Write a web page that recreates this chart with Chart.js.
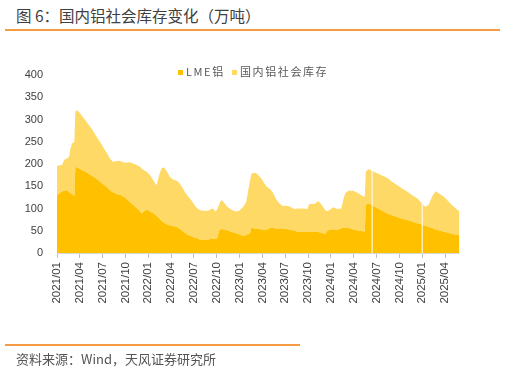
<!DOCTYPE html>
<html>
<head>
<meta charset="utf-8">
<script src="https://cdn.jsdelivr.net/npm/chart.js@4.4.1/dist/chart.umd.min.js"></script>
<style>
  html, body { margin: 0; padding: 0; background: #ffffff; }
  #wrap { position: relative; width: 505px; height: 372px; overflow: hidden; background: #fff; }
  #title { position: absolute; left: 16px; top: 5px; font: 15.5px "Noto Sans CJK SC", sans-serif; color: #404040; white-space: nowrap; line-height: 20px; }
  #topline { position: absolute; left: 5px; top: 29px; width: 495px; height: 2px; background: #F79A45; }
  #botline { position: absolute; left: 5px; top: 344px; width: 295px; height: 2px; background: #F79A45; }
  #source { position: absolute; left: 16px; top: 350px; font: 13px "Noto Sans CJK SC", sans-serif; color: #555; white-space: nowrap; line-height: 18px; }
  #legend { position: absolute; top: 63px; left: 0; width: 505px; height: 16px; font: 11px "Noto Sans CJK SC", sans-serif; color: #595959; }
  .li { position: absolute; top: 0; white-space: nowrap; line-height: 16px; letter-spacing: 1.6px; }
  .sw { display: inline-block; width: 5px; height: 5px; margin-right: 3px; vertical-align: 1px; }
  canvas { position: absolute; left: 0; top: 0; }
</style>
</head>
<body>
<div id="wrap">
  <div id="title">图 6：国内铝社会库存变化（万吨）</div>
  <div id="topline"></div>
  <canvas id="c" width="505" height="372"></canvas>
  <div id="legend"></div>
  <div id="botline"></div>
  <div id="source">资料来源：Wind，天风证券研究所</div>
</div>
<script>
// x positions: months elapsed since 2021/01 (null values = missing observations)
const tickLabels = ['2021/01','2021/04','2021/07','2021/10','2022/01','2022/04','2022/07','2022/10',
  '2023/01','2023/04','2023/07','2023/10','2024/01','2024/04','2024/07','2024/10','2025/01','2025/04'];
const seriesNames = ['LME铝', '国内铝社会库存'];
const months = [0,0.66,0.92,1.32,1.58,1.78,1.97,2.28,2.41,2.63,3.03,3.42,3.82,4.21,4.61,5.00,5.39,5.79,6.18,6.58,6.97,
  7.37,7.89,8.29,8.95,9.61,10.13,10.53,10.92,11.18,11.45,11.84,12.24,12.63,13.09,13.42,13.75,14.08,14.47,14.87,15.26,
  15.66,16.05,16.45,16.84,17.24,17.63,18.03,18.42,18.82,19.34,19.87,20.26,20.53,20.79,21.05,21.32,21.58,21.84,22.37,
  22.89,23.42,23.95,24.47,24.87,25.13,25.33,25.53,25.66,26.18,26.45,26.84,27.24,27.63,28.03,28.42,28.82,29.21,29.61,
  30.13,30.66,31.18,31.71,32.37,32.89,33.16,33.82,34.34,34.80,35.26,35.53,35.92,36.32,36.84,37.37,37.63,37.89,38.29,
  38.95,39.61,40.26,40.46,40.59,40.96,41.37,41.41,41.45,42.07,42.72,43.38,44.04,44.70,45.36,46.01,46.67,47.33,47.76,
  47.95,47.99,48.03,48.42,48.86,49.30,49.74,50.17,50.83,51.49,52.14,52.89];
const lme = [130,138,140,141,137,134,133,128,194,192,189,185,182,177,173,169,164,158,153,148,141,
  136,132,131,124,114,106,100,93,89,94,97,93,90,83,78,72,68,64,62,60,
  59,55,50,45,40,38,35,33,30,29,29,33,32,32,33,50,55,53,51,
  48,45,42,38,40,43,42,57,57,54,55,53,52,53,56,56,55,55,55,
  54,52,50,48,48,48,48,47,47,45,43,50,53,53,52,55,57,57,56,
  53,50,49,47,108,112,108,null,107,101,95,89,85,81,77,74,71,67,65,
  64,null,63,61,58,56,53,51,48,45,42,40];
const domestic = [66,60,69,72,79,101,113,122,124,129,125,120,114,110,105,98,92,88,82,76,71,
  69,75,76,79,90,94,97,101,100,92,85,82,74,69,97,119,124,118,108,105,
  104,103,98,91,87,81,74,67,66,66,66,66,68,61,64,60,64,63,53,
  50,48,53,66,75,97,118,119,123,126,120,115,105,95,87,78,65,57,51,
  52,52,49,52,52,51,62,63,70,63,53,44,45,50,47,45,63,77,84,
  87,84,78,80,75,77,77,null,77,78,79,80,75,72,68,64,59,56,50,
  48,null,46,43,51,71,86,83,79,70,62,53];
const colors = ['#FFC000', '#FFD966'];

const toPts = arr => months.map((m, i) => ({ x: m, y: arr[i] }));

const chart = new Chart(document.getElementById('c'), {
  type: 'line',
  data: {
    datasets: [
      { label: seriesNames[0], data: toPts(lme), backgroundColor: colors[0], borderColor: 'rgba(0,0,0,0)',
        borderWidth: 0, pointRadius: 0, fill: 'origin', tension: 0, spanGaps: false },
      { label: seriesNames[1], data: toPts(domestic), backgroundColor: colors[1], borderColor: 'rgba(0,0,0,0)',
        borderWidth: 0, pointRadius: 0, fill: '-1', tension: 0, spanGaps: false }
    ]
  },
  options: {
    responsive: false,
    animation: false,
    events: [],
    layout: { padding: { left: 0, right: 45.5, top: 75, bottom: 0 } },
    plugins: { legend: { display: false }, tooltip: { enabled: false } },
    scales: {
      x: {
        type: 'linear', min: 0, max: 52.9,
        afterBuildTicks: s => { s.ticks = tickLabels.map((_, i) => ({ value: i * 3 })); },
        afterFit: s => { s.height = 119; },
        grid: { drawOnChartArea: false, drawTicks: true, tickLength: 5, color: '#BFBFBF' },
        border: { display: true, color: '#D9D9D9' },
        ticks: {
          autoSkip: false, minRotation: 90, maxRotation: 90, padding: 4,
          color: '#404040', font: { family: 'Liberation Sans', size: 11.5 },
          callback: v => tickLabels[Math.round(v / 3)]
        }
      },
      y: {
        stacked: true, min: 0, max: 400,
        afterFit: s => { s.width = 57; },
        ticks: { stepSize: 50, padding: 14, color: '#404040', font: { family: 'Liberation Sans', size: 11 } },
        grid: { display: false, drawTicks: false },
        border: { display: false }
      }
    }
  }
});

// legend built from the chart's datasets
const lg = document.getElementById('legend');
const legendX = [178, 232];
chart.data.datasets.forEach((ds, i) => {
  const d = document.createElement('div');
  d.className = 'li';
  d.style.left = legendX[i] + 'px';
  d.innerHTML = '<span class="sw" style="background:' + ds.backgroundColor + '"></span>' + ds.label;
  lg.appendChild(d);
});
</script>
</body>
</html>
